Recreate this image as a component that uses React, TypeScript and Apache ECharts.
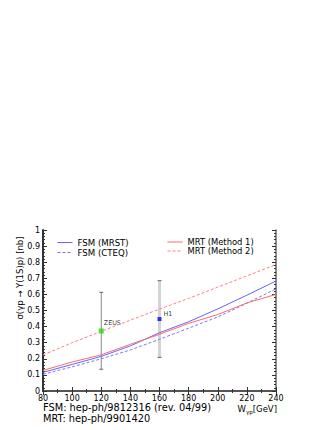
import React, { useEffect, useRef } from "react";
import * as echarts from "echarts";

const energies = [80, 100, 120, 140, 160, 180, 200, 220, 240];
const fsmMrst = [0.116, 0.165, 0.215, 0.28, 0.362, 0.43, 0.51, 0.595, 0.683];
const fsmCteq = [0.104, 0.15, 0.2, 0.255, 0.321, 0.39, 0.46, 0.545, 0.635];
const mrtMethod1 = [0.128, 0.18, 0.225, 0.29, 0.352, 0.42, 0.475, 0.547, 0.6];
const mrtMethod2 = [0.224, 0.3, 0.37, 0.44, 0.509, 0.575, 0.645, 0.715, 0.785];

const zeusPoint = [120, 0.373];
const zeusError = [120, 0.135, 0.613];
const h1Point = [160, 0.447];
const h1Error = [160, 0.209, 0.685];

const xTicks = { min: 80, max: 240, interval: 20 };
const yTicks = { min: 0, max: 1, interval: 0.1 };

const FONT = "DejaVu Sans";

const BLUE = "#6464ff";
const BLUE_DASH = "#7878ff";
const RED = "#ff6a6a";
const RED_DASH = "#ff8080";

function pairs(ys: number[]) {
  return energies.map((x, i) => [x, ys[i]]);
}

function errorSeries(name: string, d: number[], color: string, width: number, cap: number) {
  return {
    type: "custom",
    name,
    xAxisIndex: 0,
    yAxisIndex: 0,
    data: [d],
    silent: true,
    renderItem: (params: any, api: any) => {
      const x = api.value(0);
      const lo = api.coord([x, api.value(1)]);
      const hi = api.coord([x, api.value(2)]);
      const style = { stroke: color, lineWidth: width };
      const capStyle = { stroke: "#666", lineWidth: 1 };
      return {
        type: "group",
        children: [
          { type: "line", shape: { x1: lo[0], y1: lo[1], x2: hi[0], y2: hi[1] }, style },
          { type: "line", shape: { x1: lo[0] - cap, y1: lo[1], x2: lo[0] + cap, y2: lo[1] }, style: capStyle },
          { type: "line", shape: { x1: hi[0] - cap, y1: hi[1], x2: hi[0] + cap, y2: hi[1] }, style: capStyle },
        ],
      };
    },
  };
}

function legendItem(name: string, color: string, dashed: boolean) {
  return {
    name,
    itemStyle: { opacity: 0 },
    lineStyle: { color, width: 1, type: dashed ? [3, 2] : "solid", opacity: 1 },
  };
}

export default function App() {
  const ref = useRef<HTMLDivElement>(null);
  useEffect(() => {
    if (!ref.current) return;
    const chart = echarts.init(ref.current, null, { renderer: "svg" });
    const axisCommon = {
      axisTick: { show: true, inside: true, length: 4, lineStyle: { color: "#333", width: 1 } },
      minorTick: { show: true, length: 2, lineStyle: { color: "#333", width: 1 } },
      splitLine: { show: false },
    };
    const legendCommon = {
      orient: "vertical",
      top: 238,
      padding: 0,
      itemWidth: 15,
      itemHeight: 9,
      itemGap: 1,
      itemStyle: { opacity: 0 },
    };
    chart.setOption({
      animation: false,
      backgroundColor: "#fff",
      grid: { left: 43, top: 230, width: 233, height: 161, containLabel: false },
      xAxis: [
        {
          type: "value",
          ...xTicks,
          position: "bottom",
          axisLine: { show: true, lineStyle: { color: "#222", width: 2 } },
          ...axisCommon,
          minorTick: { ...axisCommon.minorTick, splitNumber: 2 },
          axisLabel: { show: true, fontFamily: FONT, fontSize: 8, color: "#000", margin: 3 },
        },
        {
          type: "value",
          ...xTicks,
          position: "top",
          axisLine: { show: true, lineStyle: { color: "#666", width: 1.5 } },
          ...axisCommon,
          minorTick: { ...axisCommon.minorTick, splitNumber: 2 },
          axisLabel: { show: false },
        },
      ],
      yAxis: [
        {
          type: "value",
          ...yTicks,
          position: "left",
          axisLine: { show: true, lineStyle: { color: "#333", width: 2 } },
          ...axisCommon,
          minorTick: { ...axisCommon.minorTick, splitNumber: 5 },
          axisLabel: {
            show: true,
            fontFamily: FONT,
            fontSize: 8,
            color: "#000",
            margin: 3,
            formatter: (v: number) => String(Math.round(v * 10) / 10),
          },
        },
        {
          type: "value",
          ...yTicks,
          position: "right",
          axisLine: { show: true, lineStyle: { color: "#666", width: 1.5 } },
          ...axisCommon,
          minorTick: { ...axisCommon.minorTick, splitNumber: 5 },
          axisLabel: { show: false },
        },
      ],
      legend: [
        {
          ...legendCommon,
          data: [legendItem("FSM (MRST)", BLUE, false), legendItem("FSM (CTEQ)", BLUE_DASH, true)],
          left: 57,
          textStyle: { fontFamily: FONT, fontSize: 8.6, color: "#000" },
        },
        {
          ...legendCommon,
          data: [legendItem("MRT (Method 1)", RED, false), legendItem("MRT (Method 2)", RED_DASH, true)],
          left: 167,
          textStyle: { fontFamily: FONT, fontSize: 8.4, color: "#000" },
        },
      ],
      series: [
        {
          type: "line",
          name: "FSM (MRST)",
          data: pairs(fsmMrst),
          symbol: "none",
          lineStyle: { color: BLUE, width: 1, type: "solid" },
          itemStyle: { color: BLUE },
        },
        {
          type: "line",
          name: "FSM (CTEQ)",
          data: pairs(fsmCteq),
          symbol: "none",
          lineStyle: { color: BLUE_DASH, width: 1, type: [3, 2] },
          itemStyle: { color: BLUE_DASH },
        },
        {
          type: "line",
          name: "MRT (Method 1)",
          data: pairs(mrtMethod1),
          symbol: "none",
          lineStyle: { color: RED, width: 1, type: "solid" },
          itemStyle: { color: RED },
        },
        {
          type: "line",
          name: "MRT (Method 2)",
          data: pairs(mrtMethod2),
          symbol: "none",
          lineStyle: { color: RED_DASH, width: 1, type: [3, 2] },
          itemStyle: { color: RED_DASH },
        },
        errorSeries("zeusErr", zeusError, "#888", 1, 2),
        errorSeries("h1Err", h1Error, "#d4d4d4", 3, 2),
        {
          type: "scatter",
          name: "ZEUS",
          data: [zeusPoint],
          symbol: "rect",
          symbolSize: 5,
          itemStyle: { color: "#00ee00" },
          label: {
            show: true,
            formatter: "ZEUS",
            position: [5, -8],
            fontFamily: FONT,
            fontSize: 6.4,
            color: "#000",
          },
        },
        {
          type: "scatter",
          name: "H1",
          data: [h1Point],
          symbol: "rect",
          symbolSize: 4,
          itemStyle: { color: "#0000ff" },
          label: {
            show: true,
            formatter: "H1",
            position: [6, -6],
            fontFamily: FONT,
            fontSize: 6.4,
            color: "#000",
          },
        },
      ],
      graphic: [
        {
          type: "text",
          x: 20,
          y: 278,
          rotation: Math.PI / 2,
          style: {
            text: "σ(γp → Υ(1S)p) [nb]",
            fontFamily: FONT,
            fontSize: 8.5,
            fill: "#000",
            align: "center",
            verticalAlign: "middle",
          },
        },
        {
          type: "text",
          x: 43,
          y: 407,
          style: {
            text: "FSM: hep-ph/9812316 (rev. 04/99)",
            fontFamily: FONT,
            fontSize: 9.8,
            fill: "#000",
            align: "left",
            verticalAlign: "middle",
          },
        },
        {
          type: "text",
          x: 43,
          y: 418,
          style: {
            text: "MRT: hep-ph/9901420",
            fontFamily: FONT,
            fontSize: 9.8,
            fill: "#000",
            align: "left",
            verticalAlign: "middle",
          },
        },
        {
          type: "text",
          x: 277,
          y: 409,
          style: {
            text: "{a|W}{b|γp}{a|[GeV]}",
            align: "right",
            verticalAlign: "middle",
            rich: {
              a: { fontFamily: FONT, fontSize: 8.5, color: "#000" },
              b: { fontFamily: FONT, fontSize: 5.5, color: "#000", padding: [5, 0, 0, 0] },
            },
          },
        },
      ],
    });
    return () => chart.dispose();
  }, []);
  return <div ref={ref} style={{ width: 332, height: 430, position: "absolute", left: 0, top: 0 }} />;
}
